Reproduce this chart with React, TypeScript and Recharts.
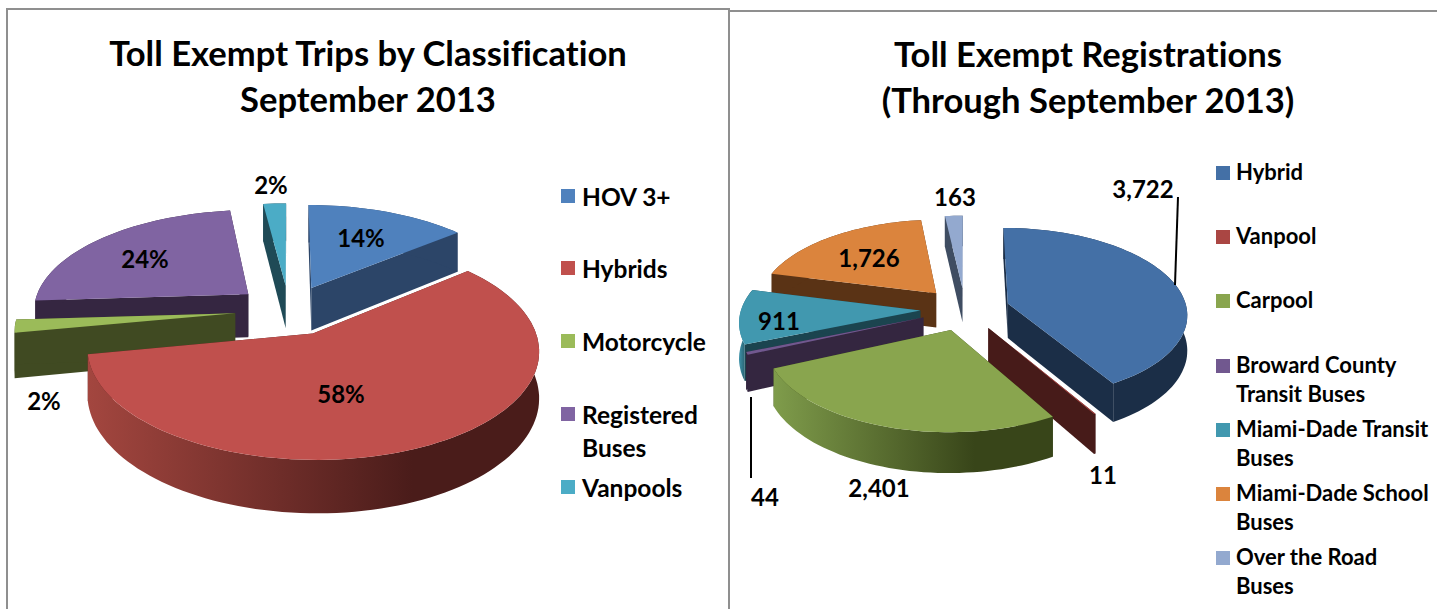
import { Legend, Pie, PieChart } from "recharts";

const FONT = "Lato, 'Open Sans', sans-serif";
const BORDER = "#8f8f8f";

const tripNames = ["HOV 3+", "Hybrids", "Motorcycle", "Registered Buses", "Vanpools"];
const tripValues = [14, 58, 2, 24, 2];
const tripLabels = ["14%", "58%", "2%", "24%", "2%"];
const tripTop = ["#4f81bd", "#c0504d", "#9bbb59", "#8064a2", "#4bacc6"];
const tripWall = ["#2c4568", "#4a1c1a", "#404a22", "#352641", "#1f4a56"];
const tripRim = [null, "#a3463f", null, null, null];
const tripDrawOrder = [4, 0, 3, 2, 1];
const tripLabelAt = [[361, 237], [341, 393], [44, 400], [145, 258], [271, 184]];
const tripLegendTops = [180, 252, 325, 398, 471];

const regNames = [
  "Hybrid",
  "Vanpool",
  "Carpool",
  "Broward County Transit Buses",
  "Miami-Dade Transit Buses",
  "Miami-Dade School Buses",
  "Over the Road Buses",
];
const regValues = [3722, 11, 2401, 44, 911, 1726, 163];
const regLabels = ["3,722", "11", "2,401", "44", "911", "1,726", "163"];
const regTop = ["#4470a6", "#aa4643", "#89a54e", "#71588f", "#4198af", "#db843d", "#93a9cf"];
const regWall = ["#1b2e47", "#471b19", "#384519", "#342640", "#1b444f", "#5a3315", "#3f4d62"];
const regRim = [null, null, "#7f9c4b", null, "#3f93aa", null, null];
const regDrawOrder = [6, 5, 0, 4, 3, 1, 2];
const regLabelAt = [[1143, 188], [1103, 474], [879, 487], [765, 496], [779, 320], [869, 257], [955, 196]];
const regLegendTops = [157, 221, 285, 350, 414, 478, 542];
const regLeaders = [[[1178, 197], [1175, 285]], null, null, [[751, 397], [751, 478]], null, null, null];

const toRows = (names, values, top, wall, rim) =>
  names.map((name, i) => ({ name, value: values[i], fill: top[i], wall: wall[i], rim: rim[i] }));

// flattens a recharts sector into a tilted, exploded 3D wedge
function makeWedge(name, view) {
  return function Wedge(props) {
    const row = props.payload?.payload ?? props.payload ?? props;
    if ((row.name ?? props.name) !== name) return null;
    const { cx, cy, outerRadius: rx, startAngle, endAngle, midAngle } = props;
    const from = 90 - startAngle;
    const to = 90 - endAngle;
    const mid = ((90 - midAngle) * Math.PI) / 180;

    const point = (deg, r, lift) => {
      const a = (deg * Math.PI) / 180;
      const wx = r * Math.sin(a) + view.explode * Math.sin(mid);
      const wy = r * Math.cos(a) + view.explode * Math.cos(mid);
      const s = 1 / (1 + view.perspective * wy);
      return [cx + wx * s * rx, cy - wy * s * rx * view.tilt + lift * s * view.depth];
    };
    const d = (pts) => "M" + pts.map((p) => p[0].toFixed(1) + " " + p[1].toFixed(1)).join("L") + "Z";

    const arc = (lift) => {
      const out = [];
      const steps = Math.max(2, Math.ceil((to - from) / 2));
      for (let i = 0; i <= steps; i++) out.push(point(from + ((to - from) * i) / steps, 1, lift));
      return out;
    };
    const face = (deg) => d([point(0, 0, 0), point(deg, 1, 0), point(deg, 1, 1), point(0, 0, 1)]);
    const gradId = "rim-" + name.replace(/\W/g, "");

    return (
      <g>
        {row.rim && (
          <defs>
            <linearGradient id={gradId} x1="0" x2="1" y1="0" y2="0">
              <stop offset="0" stopColor={row.rim} />
              <stop offset="0.72" stopColor={row.wall} />
              <stop offset="1" stopColor={row.wall} />
            </linearGradient>
          </defs>
        )}
        <path d={face(from)} fill={row.wall} />
        <path d={face(to)} fill={row.wall} />
        <path d={d([...arc(0), ...arc(1).reverse()])} fill={row.rim ? `url(#${gradId})` : row.wall} />
        <path d={d([point(0, 0, 0), ...arc(0)])} fill={row.fill} />
      </g>
    );
  };
}

function ChartLegend({ rows, tops, originX, swatchX, textX, width, lineHeight, fontSize }) {
  return (
    <div style={{ position: "relative", width: 0, height: 0 }}>
      {rows.map((row, i) => (
        <div key={row.name}>
          <div
            style={{
              position: "absolute",
              left: swatchX - originX,
              top: tops[i] + 9,
              width: 14,
              height: 14,
              background: row.fill,
            }}
          />
          <div
            style={{
              position: "absolute",
              left: textX - originX,
              top: tops[i],
              width,
              fontFamily: FONT,
              fontWeight: 700,
              fontSize,
              lineHeight: lineHeight + "px",
              color: "#000",
            }}
          >
            {row.name}
          </div>
        </div>
      ))}
    </div>
  );
}

function Wedges({ rows, order, labels, labelAt, leaders, view, originX, width, legend }) {
  const renderLabel = (props) => {
    const i = rows.findIndex((r) => r.name === props.name);
    const at = labelAt[i];
    const leader = leaders?.[i];
    return (
      <g key={rows[i].name}>
        {leader && (
          <line
            x1={leader[0][0] - originX}
            y1={leader[0][1]}
            x2={leader[1][0] - originX}
            y2={leader[1][1]}
            stroke="#000"
            strokeWidth={2}
          />
        )}
        <text
          x={at[0] - originX}
          y={at[1]}
          textAnchor="middle"
          dominantBaseline="central"
          fontFamily={FONT}
          fontWeight={700}
          fontSize={24}
          fill="#000"
        >
          {labels[i]}
        </text>
      </g>
    );
  };

  return (
    <PieChart width={width} height={609} margin={{ top: 0, right: 0, bottom: 0, left: 0 }} style={{ position: "absolute", left: originX, top: 0 }}>
      {order.map((idx, pass) => {
        const wedge = makeWedge(rows[idx].name, view);
        const last = pass === order.length - 1;
        return (
          <Pie
            key={rows[idx].name}
            data={rows}
            dataKey="value"
            nameKey="name"
            cx={view.cx - originX}
            cy={view.cy}
            innerRadius={0}
            outerRadius={view.rx}
            startAngle={90}
            endAngle={-270}
            stroke="none"
            shape={wedge}
            inactiveShape={wedge}
            activeShape={wedge}
            isAnimationActive={false}
            legendType={pass === 0 ? "square" : "none"}
            label={last ? renderLabel : false}
            labelLine={false}
          />
        );
      })}
      <Legend
        layout="vertical"
        align="right"
        wrapperStyle={{ position: "absolute", left: 0, top: 0, width: 0, height: 0 }}
        content={() => <ChartLegend rows={rows} originX={originX} {...legend} />}
      />
    </PieChart>
  );
}

const titleStyle = {
  position: "absolute",
  fontFamily: FONT,
  fontWeight: 700,
  fontSize: 34.6,
  lineHeight: "46px",
  fontVariantLigatures: "none",
  color: "#000",
  textAlign: "center",
  whiteSpace: "nowrap",
};

export default function App() {
  return (
    <div style={{ position: "absolute", left: 0, top: 0, width: 1437, height: 609, background: "#fff", overflow: "hidden" }}>
      <div style={{ position: "absolute", left: 6, top: 8, width: 724, height: 601, borderTop: `2px solid ${BORDER}`, borderLeft: `2px solid ${BORDER}`, borderRight: `2px solid ${BORDER}`, boxSizing: "border-box" }} />
      <div style={{ position: "absolute", left: 730, top: 10, width: 707, height: 2, background: BORDER }} />

      <div style={{ ...titleStyle, left: 8, width: 720, top: 30 }}>
        Toll Exempt Trips by Classification
        <br />
        September 2013
      </div>
      <div style={{ ...titleStyle, left: 738, width: 700, top: 31 }}>
        Toll Exempt Registrations
        <br />
        (Through September 2013)
      </div>

      <Wedges
        rows={toRows(tripNames, tripValues, tripTop, tripWall, tripRim)}
        order={tripDrawOrder}
        labels={tripLabels}
        labelAt={tripLabelAt}
        view={{ cx: 289, cy: 310, rx: 216, tilt: 0.466, perspective: 0.144, explode: 0.25, depth: 44 }}
        originX={0}
        width={729}
        legend={{ tops: tripLegendTops, swatchX: 561, textX: 582, width: 140, lineHeight: 33, fontSize: 24.5 }}
      />
      <Wedges
        rows={toRows(regNames, regValues, regTop, regWall, regRim)}
        order={regDrawOrder}
        labels={regLabels}
        labelAt={regLabelAt}
        leaders={regLeaders}
        view={{ cx: 965, cy: 309, rx: 179, tilt: 0.477, perspective: 0.115, explode: 0.25, depth: 35 }}
        originX={729}
        width={708}
        legend={{ tops: regLegendTops, swatchX: 1216, textX: 1236, width: 200, lineHeight: 29, fontSize: 22 }}
      />
    </div>
  );
}
